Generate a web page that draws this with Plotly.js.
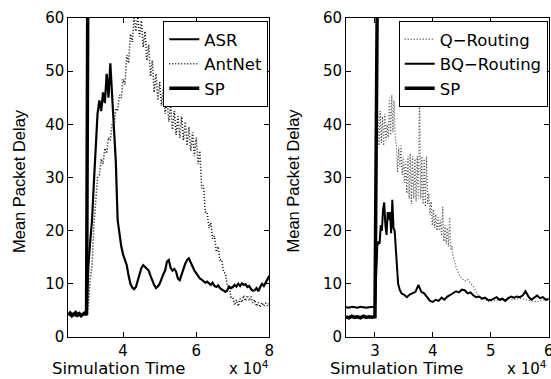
<!DOCTYPE html>
<html>
<head>
<meta charset="utf-8">
<script src="https://cdn.plot.ly/plotly-3.0.1.min.js"></script>
<style>html,body{margin:0;padding:0;background:#fff;}#chart{width:551px;height:379px;}</style>
</head>
<body>
<div id="chart"></div>
<script>
// ---------- helper for uniformly sampled time stamps (units of 10^4) ----------
function grid(start, step, n) { const a = []; for (let i = 0; i < n; i++) a.push(+(start + i * step).toFixed(4)); return a; }

// ---------- LEFT PANEL DATA (sampled every 0.05 from 2.5) ----------
const leftStart = 2.5, leftStep = 0.05;
const asrLeft = [
  4.3,4.1,4.4,4.2,4.0,4.3,4.5,4.1,4.2,4.4,4.3,
  13.5,18,22,29,37,42,44.5,42.5,46,44,
  49.5,45,51.5,46,40,33,22,19,17,15.5,
  14.5,13.5,11.5,10,9.3,9.0,9.4,10.5,12,13,
  13.5,13.2,12.8,12.5,11.5,10.5,9.8,9.2,9.5,10,
  11,11.8,12.5,14.2,14.5,13,12.5,12.8,12.3,11,
  10.7,11.8,13,13.8,14.5,14.8,14,13.2,12.5,12,
  11.5,11,10.8,10.5,10.2,10.4,10,9.8,10.2,9.6,
  9.4,9.7,9.2,9.0,8.7,8.5,8.8,9.5,9.2,9.4,
  9.8,9.5,10,9.6,10.1,9.8,9.9,9.4,9.6,9.0,
  8.7,8.8,9.2,8.6,9.4,10,9.6,10.3,10.8,11.5
];
const antnetLeft = [
  4.2,4.4,4.1,4.3,4.2,4.0,4.4,4.2,4.3,4.1,4.2,
  6,11,13.5,21,25,30,30.5,33.5,32.5,35.5,
  34.5,37.5,37,40,39.5,43,42.5,45.5,45,48.5,
  47.5,53,51.5,57,55.5,60,57.5,60.5,56.5,59.5,
  54.5,57.5,52,55,49,52,46,49.5,44.5,48,
  43.5,47,42,45,40.5,43.5,39,42.5,38,41.5,
  37.5,41.5,37,40.5,36,39.5,35,38.5,34,37.5,
  32.5,35,28,28.5,23.5,23.5,20.5,21.5,18.5,19,
  16,17,14.5,14.5,12.2,12,9.5,9.5,7.5,7.5,
  6,7,5.8,7.2,6.5,7.8,6.8,7.8,6.8,7.6,
  6.4,7,5.8,6.5,5.6,6.5,5.8,6.4,5.8,6.3
];
const spLeftT = [2.5,2.55,2.6,2.65,2.7,2.75,2.8,2.85,2.9,2.95,3.0,3.05,8.0];
const spLeftV = [4.2,4.5,4.0,4.3,4.6,4.1,4.4,4.0,4.3,4.5,4.2,95,95];

// ---------- RIGHT PANEL DATA ----------
const qT = [2.5,3.0,3.03,
  3.05,3.07,3.09,3.11,3.13,3.15,3.17,3.19,3.21,3.23,
  3.25,3.27,3.29,3.31,3.33,3.35,3.37,3.39,3.41,3.43,
  3.45,3.47,3.49,3.51,3.53,3.55,3.57,3.59,3.61,3.63,
  3.65,3.67,3.69,3.71,3.73,3.75,3.77,3.79,3.81,3.83,
  3.85,3.87,3.89,3.91,3.93,3.95,3.97,3.99,4.01,4.03,
  4.05,4.07,4.09,4.11,4.13,4.15,4.17,4.19,4.21,4.23,
  4.25,4.27,4.29,4.31,4.33,4.35,4.37,
  4.40,4.43,4.46,4.50,
  4.55,4.60,4.65,4.70,4.75,4.80,4.85,4.90,4.95,5.0,
  5.1,5.2,5.3,5.4,5.5,5.6,5.7,5.8,5.9,6.0];
const qV = [5.6,5.6,38,
  42,36,42.5,36.5,41.5,36,42,37,40,37.5,
  45,38,45.5,38.5,44.5,37.5,36,31,35.5,32,
  36,30.5,34,29,33,27,34,26,34.5,25,
  34,26,33.5,25.5,34,26,47.5,26,34,25,
  33.5,24.5,34,25,27,23,25.5,21,24,20.5,
  23,20,22.5,20,22,19,24.5,18,21,17.5,
  20.5,17,22.5,16.5,17,15,14.5,
  13,12.5,11.5,11,
  10.5,10.8,10.2,9.5,8.5,7.5,7,7.2,6.6,6.8,
  7,6.8,7.2,7,7.3,7,6.8,6.6,7,6.8];

const bqT = [2.5,2.55,2.6,2.65,2.7,2.75,2.8,2.85,2.9,2.95,3.0,
  3.02,3.04,3.06,3.08,3.10,3.12,3.14,3.16,3.18,3.20,
  3.22,3.24,3.26,3.28,3.30,3.32,3.34,3.36,3.38,3.40,
  3.43,3.46,3.50].concat(grid(3.55, 0.05, 50));
const bqV = [5.6,5.5,5.7,5.6,5.5,5.7,5.6,5.5,5.6,5.7,5.6,
  10,17,18,17.5,21,20,24,25.3,21,19.2,
  23.5,22,23.5,19.5,25.8,20.5,20,16,11.5,10,
  8.8,8.2,8,
  7.5,8,8.2,8.5,9.8,8.5,8.2,7.6,6.8,6.6,
  7,6.8,7.4,7,7.6,7.9,8.2,8.6,8.4,8.9,
  8.8,8.2,8.4,7.8,7.5,7.6,7.2,7.4,7,6.9,
  7.2,7.5,7,7.2,6.8,7.3,7.6,7.4,7.6,7.5,
  7.8,8.6,7.6,7,7.4,7.8,7.3,7.5,7,7.2];

const spRightT = [2.5,2.55,2.6,2.65,2.7,2.75,2.8,2.85,2.9,2.95,3.0,3.06,6.0];
const spRightV = [3.8,3.6,3.9,3.7,3.8,3.6,3.9,3.7,3.8,3.7,3.8,95,95];

const tLeft = grid(leftStart, leftStep, asrLeft.length);

// ---------- TRACES ----------
const WIDE = '"DejaVu Sans", Verdana, sans-serif';
const NARROW = '"Liberation Sans", Arial, Helvetica, sans-serif';
const traces = [
  {x: tLeft, y: asrLeft, name: 'ASR', mode: 'lines', line: {color: '#000', width: 2.2}, xaxis: 'x', yaxis: 'y', legend: 'legend'},
  {x: tLeft, y: antnetLeft, name: 'AntNet', mode: 'lines', line: {color: '#111', width: 1.6, dash: '1px,2px'}, xaxis: 'x', yaxis: 'y', legend: 'legend'},
  {x: spLeftT, y: spLeftV, name: 'SP', mode: 'lines', line: {color: '#000', width: 3.5}, xaxis: 'x', yaxis: 'y', legend: 'legend'},
  {x: qT, y: qV, name: 'Q\u2212Routing', mode: 'lines', line: {color: '#555', width: 1.3, dash: '1px,2px'}, xaxis: 'x2', yaxis: 'y2', legend: 'legend2'},
  {x: bqT, y: bqV, name: 'BQ\u2212Routing', mode: 'lines', line: {color: '#000', width: 2}, xaxis: 'x2', yaxis: 'y2', legend: 'legend2'},
  {x: spRightT, y: spRightV, name: 'SP', mode: 'lines', line: {color: '#000', width: 3.5}, xaxis: 'x2', yaxis: 'y2', legend: 'legend2'}
];

const W = 551, H = 379;
const axBase = {
  showline: true, linecolor: '#000', linewidth: 1, mirror: 'ticks',
  ticks: 'inside', ticklen: 5, tickcolor: '#000', tickwidth: 1,
  showgrid: false, zeroline: false, fixedrange: true,
  ticklabeloverflow: 'allow',
  tickfont: {family: WIDE, size: 15, color: '#000'}
};
const yDomain = [(H - 337) / H, (H - 18) / H];

const legendBase = {
  bordercolor: '#000', borderwidth: 1, bgcolor: '#fff',
  font: {family: WIDE, size: 16.5, color: '#000'},
  xanchor: 'right', yanchor: 'top', y: 1 - 21 / H, tracegroupgap: 0
};

const xTitleFont = {family: WIDE, size: 16.5, color: '#000'};
const yTitleFont = {family: NARROW, size: 16.5, color: '#000'};
const expFont = {family: WIDE, size: 15, color: '#000'};
const layout = {
  width: W, height: H,
  margin: {l: 0, r: 0, t: 0, b: 0},
  paper_bgcolor: '#fff', plot_bgcolor: '#fff',
  showlegend: true,
  xaxis: Object.assign({}, axBase, {domain: [68.3 / W, 269.3 / W], range: [2.5, 8], dtick: 2, tick0: 0, anchor: 'y'}),
  yaxis: Object.assign({}, axBase, {domain: yDomain, range: [0, 60], dtick: 10, anchor: 'x'}),
  xaxis2: Object.assign({}, axBase, {domain: [346 / W, 548.7 / W], range: [2.5, 6], dtick: 1, tick0: 0, anchor: 'y2'}),
  yaxis2: Object.assign({}, axBase, {domain: yDomain, range: [0, 60], dtick: 10, anchor: 'x2'}),
  legend: Object.assign({}, legendBase, {x: 268.3 / W}),
  legend2: Object.assign({}, legendBase, {x: 547.7 / W}),
  annotations: [
    {text: 'Simulation Time', xref: 'paper', yref: 'paper', x: 119 / W, y: 1 - 368 / H, xanchor: 'center', yanchor: 'middle', showarrow: false, font: xTitleFont},
    {text: 'Simulation Time', xref: 'paper', yref: 'paper', x: 396.7 / W, y: 1 - 368 / H, xanchor: 'center', yanchor: 'middle', showarrow: false, font: xTitleFont},
    {text: 'Mean Packet Delay', xref: 'paper', yref: 'paper', x: 19 / W, y: 1 - 181 / H, xanchor: 'center', yanchor: 'middle', textangle: -90, showarrow: false, font: yTitleFont},
    {text: 'Mean Packet Delay', xref: 'paper', yref: 'paper', x: 292.5 / W, y: 1 - 181 / H, xanchor: 'center', yanchor: 'middle', textangle: -90, showarrow: false, font: yTitleFont},
    {text: 'x 10<sup>4</sup>', xref: 'paper', yref: 'paper', x: 271 / W, y: 1 - 368 / H, xanchor: 'right', yanchor: 'middle', showarrow: false, font: expFont},
    {text: 'x 10<sup>4</sup>', xref: 'paper', yref: 'paper', x: 549 / W, y: 1 - 368 / H, xanchor: 'right', yanchor: 'middle', showarrow: false, font: expFont}
  ]
};

Plotly.newPlot('chart', traces, layout, {displayModeBar: false, staticPlot: true});
</script>
</body>
</html>
